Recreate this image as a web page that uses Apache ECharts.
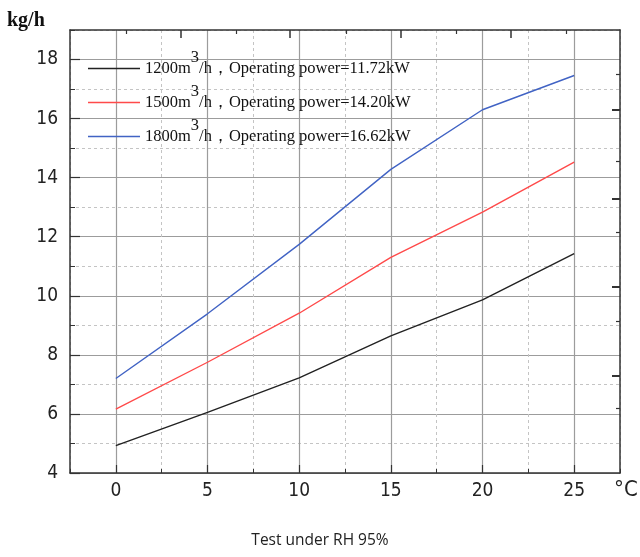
<!DOCTYPE html>
<html>
<head>
<meta charset="utf-8">
<script src="https://cdn.jsdelivr.net/npm/echarts@6/dist/echarts.min.js"></script>
<style>
  html, body { margin: 0; padding: 0; background: #fff; }
  #chart { width: 640px; height: 557px; }
</style>
</head>
<body>
<div id="chart"></div>
<script>
  // temperature (°C) vs dehumidifying capacity (kg/h)
  const temps = [0, 5, 10, 15, 20, 25];
  const flow1200 = [4.93, 6.05, 7.22, 8.64, 9.86, 11.43];
  const flow1500 = [6.16, 7.75, 9.41, 11.3, 12.83, 14.53];
  const flow1800 = [7.2, 9.39, 11.74, 14.28, 16.3, 17.46];
  const flowNames = ['1200', '1500', '1800'];
  const powers = ['11.72', '14.20', '16.62'];
  const colors = ['#222222', '#ff4a4a', '#4163c4'];

  // tick marks as they sit on the frame of the original plot
  const xMajorTicks = [0, 5, 10, 15, 20, 25];
  const yMajorTicks = [4, 6, 8, 10, 12, 14, 16, 18];
  const topLongTicks = [3.55, 9.5, 15.55, 21.55];
  const topShortTicks = [0.55, 6.55, 12.55, 18.55, 24.55];
  const rightLongTicks = [7.3, 10.3, 13.3, 16.3];
  const rightShortTicks = [6.2, 9.15, 12.15, 14.55, 17.5];

  const labelFont = "'Liberation Sans Narrow', 'DejaVu Sans Condensed', sans-serif";
  const serif = "'Liberation Serif', 'DejaVu Serif', serif";
  const frame = '#333';

  const xRange = {type: 'value', min: -2.5, max: 27.5, interval: 2.5};
  const yRange = {type: 'value', min: 4, max: 19, interval: 1};

  // overlay axis that only draws some ticks / grid / frame
  function overlay(range, position, extra) {
    return Object.assign({}, range, {
      position: position,
      axisLine: {show: false, onZero: false},
      axisTick: {show: false},
      axisLabel: {show: false},
      splitLine: {show: false}
    }, extra);
  }
  function tickSet(values, len, width) {
    return {show: true, inside: true, length: len, customValues: values,
      lineStyle: {color: frame, width: width}};
  }
  function frameLine() {
    return {show: true, onZero: false, lineStyle: {color: frame, width: 1.5}};
  }

  const chart = echarts.init(document.getElementById('chart'));
  const allData = [flow1200, flow1500, flow1800];

  chart.setOption({
    backgroundColor: '#fff',
    animation: false,
    grid: {left: 70, right: 20, top: 30, bottom: 84},
    title: {
      text: 'Test under RH 95%',
      left: 'center', bottom: 3,
      textStyle: {fontFamily: "'Open Sans', 'Noto Sans', sans-serif", fontSize: 15.5, fontWeight: 'normal', color: '#222'}
    },
    graphic: [
      {type: 'text', left: 7, top: 11,
        style: {text: 'kg/h', font: 'bold 20px ' + serif, fill: '#111'}},
      {type: 'text', left: 614, top: 479,
        style: {text: '°C', font: '22px ' + labelFont, fill: '#222'}}
    ],
    legend: {
      orient: 'vertical', left: 88, top: 49, padding: 0,
      icon: 'rect', itemWidth: 52, itemHeight: 1.6, itemGap: 6,
      data: flowNames.slice(),
      formatter: function (name) {
        const i = flowNames.indexOf(name);
        return '{a|' + name + 'm}{s|3}{a|/h，Operating power=' + powers[i] + 'kW}';
      },
      textStyle: {
        rich: {
          a: {fontFamily: serif, fontSize: 16.5, color: '#111', lineHeight: 17, verticalAlign: 'bottom'},
          s: {fontFamily: serif, fontSize: 16.5, color: '#111', lineHeight: 17, verticalAlign: 'bottom', padding: [0, 0, 11, 0]}
        }
      }
    },
    xAxis: [
      Object.assign({}, xRange, {
        position: 'bottom',
        axisLine: frameLine(),
        axisTick: {show: true, inside: true, length: 4, lineStyle: {color: frame}},
        axisLabel: {
          margin: 9, color: '#222', fontFamily: labelFont, fontSize: 19,
          formatter: v => (v % 5 === 0 ? String(v) : '')
        },
        splitLine: {show: true, lineStyle: {color: '#c4c4c4', type: [3, 3], width: 1}}
      }),
      overlay(xRange, 'bottom', {
        splitLine: {show: true, lineStyle: {color: ['rgba(0,0,0,0)', '#9c9c9c'], width: 1.2}}
      }),
      overlay(xRange, 'bottom', {axisTick: tickSet(xMajorTicks, 8, 1.2)}),
      overlay(xRange, 'top', {axisLine: frameLine(), axisTick: tickSet(topLongTicks, 8, 1.5)}),
      overlay(xRange, 'top', {axisTick: tickSet(topShortTicks, 4, 1.2)})
    ],
    yAxis: [
      Object.assign({}, yRange, {
        position: 'left',
        axisLine: frameLine(),
        axisTick: {show: true, inside: true, length: 5, lineStyle: {color: frame}},
        axisLabel: {
          margin: 12, color: '#222', fontFamily: labelFont, fontSize: 19,
          formatter: v => (v % 2 === 0 ? String(v) : '')
        },
        splitLine: {show: true, lineStyle: {color: '#c4c4c4', type: [3, 3], width: 1}}
      }),
      overlay(yRange, 'left', {
        splitLine: {show: true, lineStyle: {color: ['#9c9c9c', 'rgba(0,0,0,0)'], width: 1.2}}
      }),
      overlay(yRange, 'left', {axisTick: tickSet(yMajorTicks, 10, 1.2)}),
      overlay(yRange, 'right', {axisLine: frameLine(), axisTick: tickSet(rightLongTicks, 8, 2)}),
      overlay(yRange, 'right', {axisTick: tickSet(rightShortTicks, 4, 1.2)})
    ],
    series: flowNames.map((name, i) => ({
      name: name,
      type: 'line',
      xAxisIndex: 0,
      yAxisIndex: 0,
      symbol: 'none',
      z: 5,
      lineStyle: {color: colors[i], width: 1.4},
      itemStyle: {color: colors[i]},
      data: temps.map((t, k) => [t, allData[i][k]])
    }))
  });
</script>
</body>
</html>
